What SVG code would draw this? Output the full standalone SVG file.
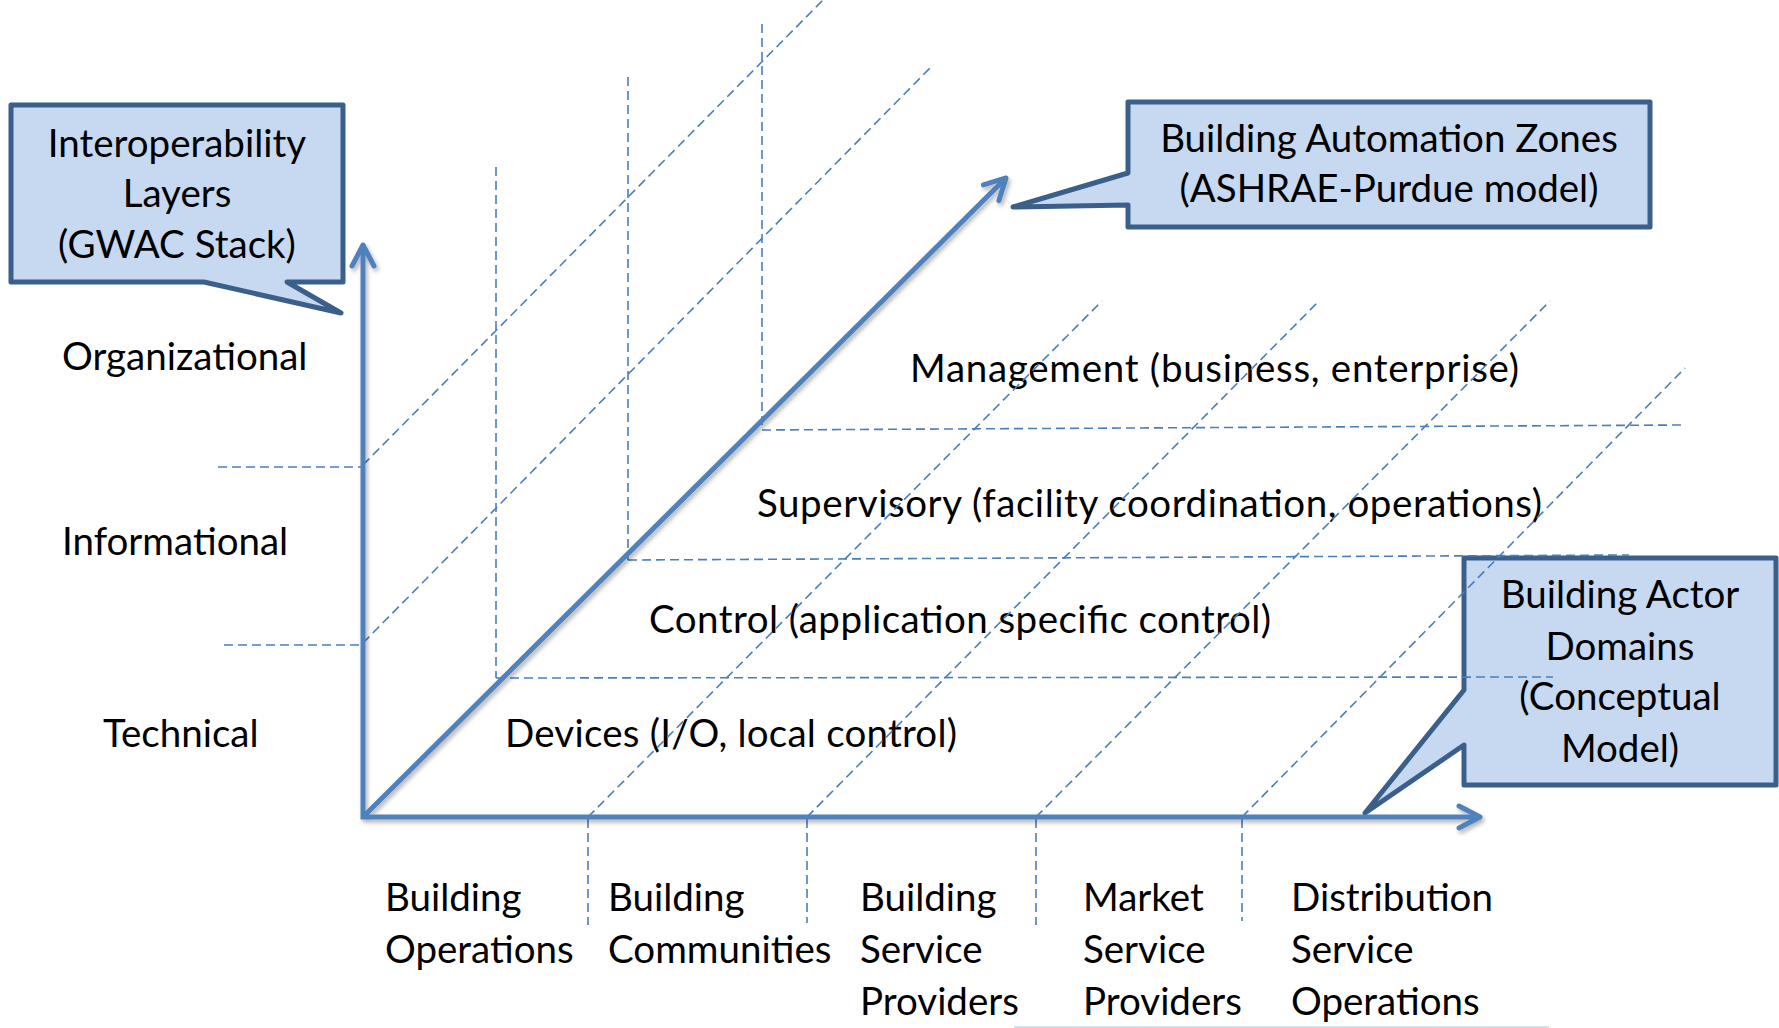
<svg xmlns="http://www.w3.org/2000/svg" width="1779" height="1028" viewBox="0 0 1779 1028">
  <style>
    .txt { font-family: Lato, "Open Sans", "Liberation Sans", sans-serif; font-size: 38.5px; fill: #000; }
    .mid { text-anchor: middle; }
    .callout { fill: #C6D9F1; stroke: #3A5F8B; stroke-width: 5; stroke-linejoin: round; }
    .dash { fill: none; stroke: #4A7EBB; stroke-width: 1.6; stroke-dasharray: 9 5; }
    .axis { fill: none; stroke: #4F81BD; stroke-width: 5; stroke-linejoin: miter; }
  </style>
  <defs>
    <marker id="arrow" markerUnits="userSpaceOnUse" viewBox="-28 -16 32 32" refX="-3" refY="0" markerWidth="32" markerHeight="32" orient="auto-start-reverse" overflow="visible">
      <path d="M-21,-11 L0,0 L-21,11" fill="none" stroke="#4F81BD" stroke-width="5" stroke-linecap="round" stroke-linejoin="round"/>
    </marker>
    <filter id="shadow" x="-5%" y="-5%" width="110%" height="110%">
      <feDropShadow dx="2" dy="3" stdDeviation="2" flood-color="#000" flood-opacity="0.3"/>
    </filter>
  </defs>
  <rect width="1779" height="1028" fill="#fff"/>

  <!-- Callout nodes -->
  <g id="gwac-callout">
    <path class="callout" d="M11,105 H343 V282 H287 L341,313 L204,282 H11 Z"/>
    <text class="txt mid" x="177" y="157">Interoperability</text>
    <text class="txt mid" x="177" y="207">Layers</text>
    <text class="txt mid" x="177" y="258">(GWAC Stack)</text>
  </g>
  <g id="ashrae-callout">
    <path class="callout" d="M1128,102 H1650 V227 H1128 V205 L1013,207 L1128,173 Z"/>
    <text class="txt mid" x="1389" y="152">Building Automation Zones</text>
    <text class="txt mid" x="1389" y="202">(ASHRAE-Purdue model)</text>
  </g>
  <g id="actor-callout">
    <path class="callout" d="M1464,558 H1776 V785 H1464 V745 L1365,813 L1464,690 Z"/>
    <text class="txt mid" x="1620" y="608">Building Actor</text>
    <text class="txt mid" x="1620" y="660">Domains</text>
    <text class="txt mid" x="1620" y="710">(Conceptual</text>
    <text class="txt mid" x="1620" y="762">Model)</text>
  </g>

  <!-- Layer labels -->
  <g id="layer-organizational"><text class="txt" x="62" y="370">Organizational</text></g>
  <g id="layer-informational"><text class="txt" x="62" y="555">Informational</text></g>
  <g id="layer-technical"><text class="txt" x="103" y="747">Technical</text></g>

  <!-- Zone labels -->
  <g id="zone-management"><text class="txt" x="910" y="382" textLength="609" lengthAdjust="spacing">Management (business, enterprise)</text></g>
  <g id="zone-supervisory"><text class="txt" x="757" y="517" textLength="785" lengthAdjust="spacing">Supervisory (facility coordination, operations)</text></g>
  <g id="zone-control"><text class="txt" x="649" y="633" textLength="622" lengthAdjust="spacing">Control (application specific control)</text></g>
  <g id="zone-devices"><text class="txt" x="505" y="747" textLength="452" lengthAdjust="spacing">Devices (I/O, local control)</text></g>

  <!-- Domain labels -->
  <g id="domain-building-operations">
    <text class="txt" x="385" y="911">Building</text>
    <text class="txt" x="385" y="963">Operations</text>
  </g>
  <g id="domain-building-communities">
    <text class="txt" x="608" y="911">Building</text>
    <text class="txt" x="608" y="963">Communities</text>
  </g>
  <g id="domain-building-service-providers">
    <text class="txt" x="860" y="911">Building</text>
    <text class="txt" x="860" y="963">Service</text>
    <text class="txt" x="860" y="1015">Providers</text>
  </g>
  <g id="domain-market-service-providers">
    <text class="txt" x="1083" y="911">Market</text>
    <text class="txt" x="1083" y="963">Service</text>
    <text class="txt" x="1083" y="1015">Providers</text>
  </g>
  <g id="domain-distribution-service-operations">
    <text class="txt" x="1291" y="911">Distribution</text>
    <text class="txt" x="1291" y="963">Service</text>
    <text class="txt" x="1291" y="1015">Operations</text>
  </g>

  <!-- Connectors: grid and axes -->
  <g id="connectors">
    <!-- left wall -->
    <line class="dash" x1="218" y1="467" x2="362" y2="467"/>
    <line class="dash" x1="224" y1="645" x2="362" y2="645"/>
    <line class="dash" x1="363" y1="465" x2="823" y2="0"/>
    <line class="dash" x1="363" y1="643" x2="930" y2="68"/>
    <line class="dash" x1="496" y1="167" x2="496" y2="678"/>
    <line class="dash" x1="628" y1="77" x2="628" y2="560"/>
    <line class="dash" x1="762" y1="24" x2="762" y2="430"/>
    <!-- floor horizontals -->
    <line class="dash" x1="496" y1="678" x2="1553" y2="677"/>
    <line class="dash" x1="628" y1="560" x2="1629" y2="555"/>
    <line class="dash" x1="762" y1="430" x2="1685" y2="425"/>
    <!-- floor diagonals -->
    <line class="dash" x1="588" y1="817" x2="1102" y2="301"/>
    <line class="dash" x1="807" y1="817" x2="1319" y2="301"/>
    <line class="dash" x1="1036" y1="817" x2="1550" y2="301"/>
    <line class="dash" x1="1242" y1="817" x2="1685" y2="368"/>
    <!-- ticks -->
    <line class="dash" x1="588" y1="819" x2="588" y2="925"/>
    <line class="dash" x1="807" y1="819" x2="807" y2="923"/>
    <line class="dash" x1="1036" y1="819" x2="1036" y2="925"/>
    <line class="dash" x1="1242" y1="819" x2="1242" y2="921"/>
    <!-- axes -->
    <g filter="url(#shadow)">
      <path class="axis" d="M363,248 L363,817 L1477,817" marker-start="url(#arrow)" marker-end="url(#arrow)"/>
      <path class="axis" d="M363,817 L1003.9,180.1" marker-end="url(#arrow)"/>
    </g>
  </g>
  <line x1="1014" y1="1027" x2="1549" y2="1027" stroke="#C9D6E6" stroke-width="1.5"/>
</svg>
